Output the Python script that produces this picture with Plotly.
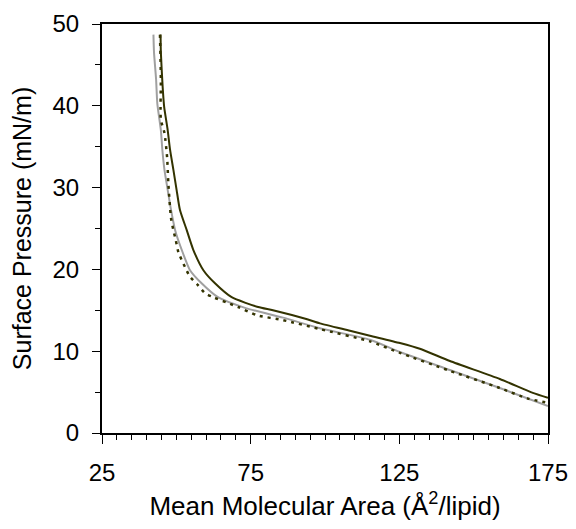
import plotly.graph_objects as go

# isotherm 1 (dark solid)
area_1 = [44.7, 44.8, 45.4, 45.9, 47.1, 47.9, 49.0, 50.1, 51.2, 53.5, 55.7, 59.1, 63.0,
          68.6, 77.5, 82.5, 94.0, 98.3, 108.4, 115.1, 125.2, 131.9, 142.0, 158.8, 169.9, 175.0]
pressure_1 = [48.7, 46.5, 42.3, 39.9, 37.0, 34.6, 32.2, 29.7, 27.3, 24.8, 22.4, 19.9, 18.3,
              16.6, 15.4, 15.0, 13.9, 13.4, 12.5, 11.9, 11.0, 10.3, 8.8, 6.6, 4.9, 4.3]

# isotherm 2 (grey solid)
area_2 = [42.3, 42.5, 43.2, 43.6, 44.8, 45.3, 46.0, 47.1, 48.2, 49.6, 51.8, 54.6, 58.5,
          64.0, 73.1, 85.9, 98.3, 115.1, 125.2, 142.0, 158.8, 175.0]
pressure_2 = [48.7, 46.5, 43.2, 40.3, 37.0, 34.6, 32.2, 29.7, 27.3, 24.8, 22.4, 19.9, 18.3,
              16.6, 15.3, 14.1, 12.8, 11.4, 9.9, 7.7, 5.5, 3.3]

# isotherm 3 (dark dotted)
area_3 = [44.5, 44.8, 44.8, 46.0, 46.9, 47.3, 48.2, 49.0, 49.8, 50.7, 52.9, 54.6, 57.2,
          59.6, 62.4, 67.3, 70.8, 77.1, 85.9, 98.3, 115.1, 125.2, 142.0, 158.8, 168.3, 175.0]
pressure_3 = [48.7, 43.2, 38.3, 36.7, 33.7, 30.6, 26.3, 24.8, 23.6, 22.1, 20.3, 19.1, 18.1,
              17.1, 16.6, 15.9, 15.4, 14.4, 13.8, 12.7, 11.2, 9.8, 7.6, 5.5, 4.2, 3.7]

fig = go.Figure()
fig.add_trace(go.Scatter(x=area_2, y=pressure_2, mode="lines",
                         line=dict(color="#a0a0a0", width=2, shape="spline", smoothing=0.6)))
fig.add_trace(go.Scatter(x=area_1, y=pressure_1, mode="lines",
                         line=dict(color="#333300", width=2, shape="spline", smoothing=0.6)))
fig.add_trace(go.Scatter(x=area_3, y=pressure_3, mode="lines",
                         line=dict(color="#333300", width=2.5, dash="3px,5px",
                                   shape="spline", smoothing=0.6)))

# page body adds 8px, so the figure is a bit smaller than the window
fig.update_layout(
    width=560, height=513,
    margin=dict(l=94, r=20, t=16, b=88),
    plot_bgcolor="white", paper_bgcolor="white",
    showlegend=False,
    font=dict(family="Liberation Sans, Arial", size=24, color="black"),
)
fig.update_xaxes(
    range=[25, 175], tick0=25, dtick=50, automargin=False,
    ticks="outside", ticklen=9, tickwidth=1, tickcolor="black",
    minor=dict(dtick=5, ticks="outside", ticklen=5, tickcolor="black"),
    showline=True, linewidth=2, linecolor="black", mirror=True,
    showgrid=False, zeroline=False,
    tickfont=dict(size=24), ticklabelstandoff=8, ticklabeloverflow="allow",
    title=dict(text="Mean Molecular Area (Å<sup>2</sup>/lipid)", font=dict(size=26), standoff=12),
)
fig.update_yaxes(
    range=[0, 50], dtick=10, automargin=False,
    ticks="outside", ticklen=8, tickwidth=1, tickcolor="black",
    minor=dict(dtick=5, ticks="outside", ticklen=5, tickcolor="black"),
    showline=True, linewidth=2, linecolor="black", mirror=True,
    showgrid=False, zeroline=False,
    tickfont=dict(size=24), ticklabelstandoff=8, ticklabeloverflow="allow",
    title=dict(text="Surface Pressure (mN/m)", font=dict(size=25), standoff=14),
)

fig.write_html("out.html")
